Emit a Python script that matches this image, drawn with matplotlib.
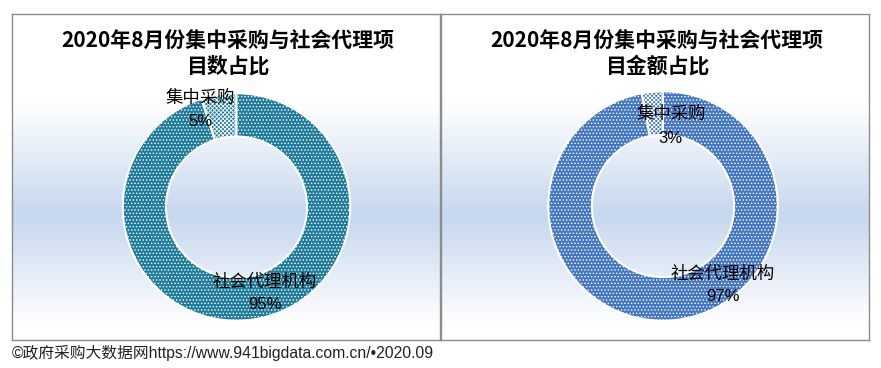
import matplotlib
matplotlib.use("Agg")
import matplotlib.pyplot as plt
import numpy as np

plt.rcParams['font.family'] = ['Noto Sans CJK SC', 'DejaVu Sans']
plt.rcParams['hatch.linewidth'] = 0.6

# data
categories = ['集中采购', '社会代理机构']
count_share = [5, 95]
amount_share = [3, 97]
titles = ['2020年8月份集中采购与社会代理项\n目数占比',
          '2020年8月份集中采购与社会代理项\n目金额占比']
footer = '©政府采购大数据网https://www.941bigdata.com.cn/•2020.09'

W, H = 881, 368
fig = plt.figure(figsize=(W / 100, H / 100), dpi=100)
latin_first = ['Liberation Sans', 'Noto Sans CJK SC']


def px_axes(x0, y0, w, h):
    # pixel box measured from top-left
    return fig.add_axes([x0 / W, 1 - (y0 + h) / H, w / W, h / H])


# background gradient: white -> light blue -> white
grad_y = np.linspace(0, 1, 300)
prof = np.interp(grad_y, [0, 0.27, 0.62, 0.95, 1.0], [0, 0, 1, 0, 0])
top = np.array([1.0, 1.0, 1.0])
mid = np.array([0xC6, 0xD7, 0xEE]) / 255
grad = top[None, :] * (1 - prof[:, None]) + mid[None, :] * prof[:, None]
grad = grad[:, None, :]

panels = [(12, 14, 428, 326), (441, 14, 428, 326)]
for (x0, y0, w, h), title in zip(panels, titles):
    bg = px_axes(x0, y0, w, h)
    bg.imshow(grad, aspect='auto', extent=[0, 1, 0, 1])
    bg.set_xlim(0, 1)
    bg.set_ylim(0, 1)
    bg.set_xticks([])
    bg.set_yticks([])
    for s in bg.spines.values():
        s.set_color('#8c8c8c')
        s.set_linewidth(1)
    bg.text(0.505, 0.877, title, ha='center', va='center', fontsize=15,
            fontweight='bold', linespacing=1.2, transform=bg.transAxes)

donuts = [
    dict(cx=236.5, cy=207, r=116, vals=count_share, color='#1F7C9C',
         pos=[((-0.32, 0.955), (-0.32, 0.75)), ((0.25, -0.655), (0.25, -0.853))]),
    dict(cx=663, cy=206, r=117, vals=amount_share, color='#4477C2',
         pos=[((0.068, 0.80), (0.06, 0.59)), ((0.52, -0.59), (0.52, -0.79))]),
]

for d in donuts:
    ax = px_axes(d['cx'] - d['r'], d['cy'] - d['r'], 2 * d['r'], 2 * d['r'])
    ax.set_facecolor('none')
    wedges, _ = ax.pie(d['vals'], startangle=90, counterclock=True, radius=1,
                       colors=[d['color'], d['color']],
                       wedgeprops=dict(width=0.38, edgecolor='white', linewidth=1.5))
    wedges[0].set_hatch('xxxxxxxx')
    wedges[1].set_hatch('.....')
    ax.set_xlim(-1.02, 1.02)
    ax.set_ylim(-1.02, 1.02)
    ax.set_aspect('equal')
    ax.axis('off')
    for cat, v, (p_cat, p_pct) in zip(categories, d['vals'], d['pos']):
        ax.text(p_cat[0], p_cat[1], cat, ha='center', va='center', fontsize=12.5)
        ax.text(p_pct[0], p_pct[1], '%d%%' % v, ha='center', va='center',
                fontsize=12, family=latin_first)

fig.text(12 / W, 1 - 353 / H, footer, ha='left', va='center', fontsize=11.3,
         color='#222222', family=latin_first)

fig.savefig('out.png', dpi=100)
